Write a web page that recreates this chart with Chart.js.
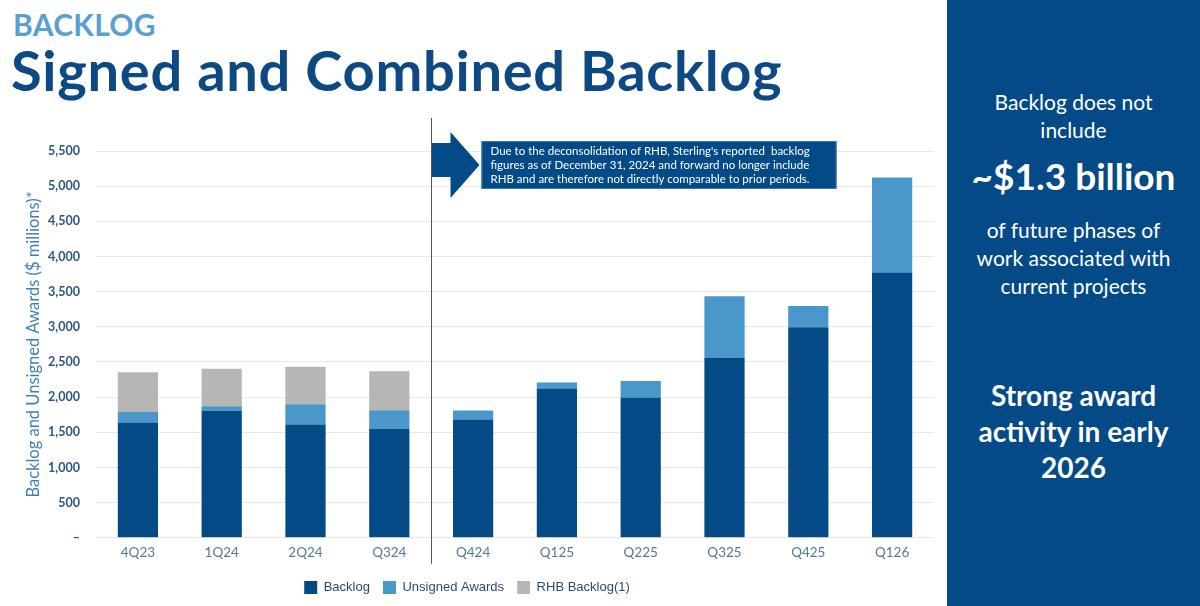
<!DOCTYPE html>
<html>
<head>
<meta charset="utf-8">
<script src="https://cdn.jsdelivr.net/npm/chart.js@4.4.1/dist/chart.umd.min.js"></script>
<style>
  html, body { margin: 0; padding: 0; background: #fff; }
  body { width: 1200px; height: 606px; position: relative; overflow: hidden; font-family: Lato, sans-serif; }
  #kicker { position: absolute; left: 13px; top: 6px; font-size: 30px; font-weight: 700; color: #5a9fcf; letter-spacing: 0.3px; }
  #title { position: absolute; left: 11px; top: 36px; font-size: 56px; font-weight: 700; color: #0d4a83; letter-spacing: 0.7px; }
  #wrap { position: absolute; left: 0; top: 110px; width: 945px; height: 496px; }
  #side { position: absolute; left: 947px; top: 0; width: 253px; height: 606px; background: #034a87; color: #fff; text-align: center; }
  #side div { position: absolute; left: 0; width: 253px; }
  .thin { font-size: 21px; line-height: 28px; }
  .big { font-size: 37px; font-weight: 700; }
  .bold { font-size: 28px; font-weight: 700; line-height: 36px; }
</style>
</head>
<body>
<div id="kicker">BACKLOG</div>
<div id="title">Signed and Combined Backlog</div>
<div id="wrap"><canvas id="chart"></canvas></div>
<div id="side">
  <div class="thin" style="top:88px">Backlog does not<br>include</div>
  <div class="big" style="top:153px">~$1.3 billion</div>
  <div class="thin" style="top:216px">of future phases of<br>work associated with<br>current projects</div>
  <div class="bold" style="top:377px">Strong award<br>activity in early<br>2026</div>
</div>
<script>
const quarters = ["4Q23", "1Q24", "2Q24", "Q324", "Q424", "Q125", "Q225", "Q325", "Q425", "Q126"];
const backlog = [1638, 1805, 1610, 1552, 1681, 2124, 1995, 2557, 2995, 3771];
const unsignedAwards = [152, 66, 290, 262, 129, 86, 234, 876, 300, 1353];
const rhbBacklog = [563, 534, 533, 553, 0, 0, 0, 0, 0, 0];
const yTickLabels = ["–", "500", "1,000", "1,500", "2,000", "2,500", "3,000", "3,500", "4,000", "4,500", "5,000", "5,500"];
const noteLines = [
  "Due to the deconsolidation of RHB, Sterling's reported  backlog",
  "figures as of December 31, 2024 and forward no longer include",
  "RHB and are therefore not directly comparable to prior periods."
];

const chart = document.getElementById("chart");

// divider line + arrow + note box
const notePlugin = {
  id: "note",
  afterDraw(c) {
    const ctx = c.ctx;
    const xs = c.scales.x;
    const top = c.chartArea.top;
    const lineX = Math.round((xs.getPixelForValue(3) + xs.getPixelForValue(4)) / 2) + 0.5;

    ctx.save();
    ctx.strokeStyle = "#555";
    ctx.lineWidth = 1;
    ctx.beginPath();
    ctx.moveTo(lineX, top - 33);
    ctx.lineTo(lineX, c.chartArea.bottom + 26);
    ctx.stroke();

    // arrow
    const ay = top + 14;
    ctx.fillStyle = "#034a87";
    ctx.beginPath();
    ctx.moveTo(lineX + 0.5, ay - 22);
    ctx.lineTo(lineX + 19, ay - 22);
    ctx.lineTo(lineX + 19, ay - 33);
    ctx.lineTo(lineX + 48, ay);
    ctx.lineTo(lineX + 19, ay + 33);
    ctx.lineTo(lineX + 19, ay + 12);
    ctx.lineTo(lineX + 0.5, ay + 12);
    ctx.closePath();
    ctx.fill();

    // box
    const bx = lineX + 50, by = top - 10, bw = 355, bh = 48;
    ctx.fillStyle = "#034a87";
    ctx.fillRect(bx, by, bw, bh);
    ctx.strokeStyle = "#3a78b0";
    ctx.strokeRect(bx + 0.5, by + 0.5, bw - 1, bh - 1);

    ctx.fillStyle = "#fff";
    ctx.font = "11.5px Lato";
    ctx.textBaseline = "middle";
    noteLines.forEach((t, i) => ctx.fillText(t, bx + 9, by + 10 + i * 14));
    ctx.restore();
  }
};

new Chart(chart, {
  type: "bar",
  data: {
    labels: quarters,
    datasets: [
      { label: "Backlog", data: backlog, backgroundColor: "#034a87" },
      { label: "Unsigned Awards", data: unsignedAwards, backgroundColor: "#4a97c9" },
      { label: "RHB Backlog(1)", data: rhbBacklog, backgroundColor: "#b6b6b6" },
    ],
  },
  options: {
    responsive: true,
    maintainAspectRatio: false,
    animation: false,
    datasets: { bar: { categoryPercentage: 0.8, barPercentage: 0.6 } },
    layout: { padding: { top: 41, right: 11, left: 0, bottom: 2 } },
    plugins: {
      tooltip: { enabled: false },
      legend: {
        position: "bottom",
        labels: {
          boxWidth: 13,
          boxHeight: 13,
          padding: 13,
          color: "#2b4a72",
          font: { family: "'Liberation Sans', Arial", size: 13 },
        },
      },
    },
    scales: {
      x: {
        stacked: true,
        grid: { display: false, drawTicks: false },
        border: { display: false },
        ticks: { color: "#56779c", padding: 7, font: { family: "Lato", size: 13.5 } },
      },
      y: {
        stacked: true,
        min: 0,
        max: 5500,
        afterFit(s) { s.width = 96; },
        grid: { color: "#e8e8e8", drawTicks: false },
        border: { display: false },
        ticks: {
          stepSize: 500,
          padding: 16,
          color: "#2d5683",
          font: { family: "Lato", size: 12.5, weight: "bold" },
          callback: (v, i) => yTickLabels[i],
        },
        title: {
          display: true,
          text: "Backlog and Unsigned Awards ($ millions)*",
          color: "#3f7fb5",
          padding: { top: 24, bottom: 6 },
          font: { family: "Lato", size: 16.5 },
        },
      },
    },
  },
  plugins: [notePlugin],
});
</script>
</body>
</html>
